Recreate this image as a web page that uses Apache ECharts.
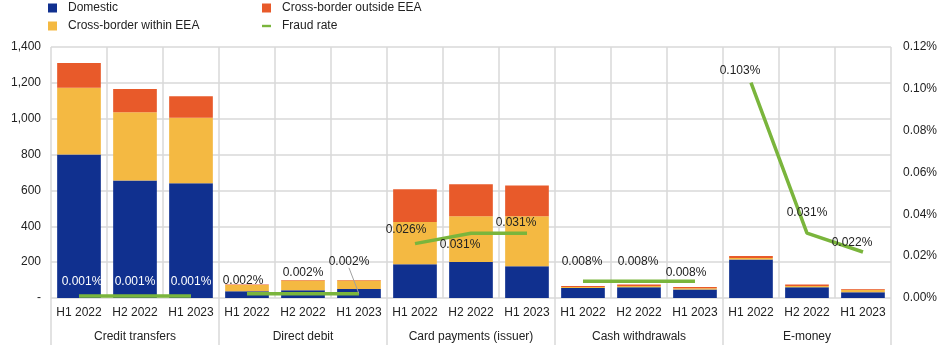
<!DOCTYPE html>
<html><head><meta charset="utf-8">
<script src="https://cdn.jsdelivr.net/npm/echarts@6/dist/echarts.min.js"></script>
<style>html,body{margin:0;padding:0;background:#fff}#c{width:940px;height:348px}</style>
</head><body><div id="c"></div>
<script>
var periods = ['H1 2022','H2 2022','H1 2023','H1 2022','H2 2022','H1 2023','H1 2022','H2 2022','H1 2023','H1 2022','H2 2022','H1 2023','H1 2022','H2 2022','H1 2023'];
var groups = ['Credit transfers','Direct debit','Card payments (issuer)','Cash withdrawals','E-money'];
var domestic = [801, 656, 640, 37, 43, 50, 188, 201, 177, 56, 60, 48, 215, 60, 32];
var withinEEA = [372, 380, 366, 35, 54, 47, 236, 255, 279, 5, 7, 6, 8, 7, 14];
var outsideEEA = [138, 130, 119, 3, 3, 3, 182, 178, 172, 6, 8, 7, 11, 8, 4];
var fraudRate = [0.001, 0.001, 0.001, 0.002, 0.002, 0.002, 0.026, 0.031, 0.031, 0.008, 0.008, 0.008, 0.103, 0.031, 0.022];
var leftTicks = [0, 200, 400, 600, 800, 1000, 1200, 1400];
var rightTicks = [0, 0.02, 0.04, 0.06, 0.08, 0.10, 0.12];
// label offsets [dx, dy] per point (styling only)
var labelOffsets = [[3,-14],[0,-14],[0,-14],[-4,-13],[0,-21],[-10,-32],[-9,-14],[-11,12],[-11,-10],[-1,-20],[-1,-20],[-9,-9],[-11,-12],[0,-20],[-11,-9]];
var leaderIndex = 5;

var C = echarts.init(document.getElementById('c'), null, {renderer:'canvas'});
var FONT = 'Liberation Sans, Arial, sans-serif';
var GRID = '#d9d9d9';

function fmtThousands(v){
  if (v === 0) return '-';
  return String(v).replace(/\B(?=(\d{3})+(?!\d))/g, ',');
}

var lineSeries = [];
for (var g = 0; g < groups.length; g++) {
  var d = [];
  for (var i = 0; i < fraudRate.length; i++) {
    if (Math.floor(i/3) === g) {
      var item = {value: fraudRate[i]};
      if (i === leaderIndex) item.labelLine = {show: true};
      d.push(item);
    } else d.push('-');
  }
  lineSeries.push({
    name: 'Fraud rate', type: 'line', yAxisIndex: 1, xAxisIndex: 0,
    data: d, symbol: 'circle', symbolSize: 1, showSymbol: true, z: 5,
    lineStyle: {color: '#7ab53c', width: 3.5},
    itemStyle: {color: 'rgba(0,0,0,0)'},
    label: {show: true, position: 'inside', distance: 0, fontFamily: FONT, fontSize: 12,
      color: g === 0 ? '#ffffff' : '#222',
      formatter: function(p){ return Number(p.value).toFixed(3) + '%'; }},
    labelLine: {show: false, lineStyle: {color: '#a0a0a0', width: 1}},
    labelLayout: function(params){
      var o = labelOffsets[params.dataIndex];
      return {dx: o[0], dy: o[1]};
    }
  });
}

var barCommon = {type: 'bar', stack: 'total', barWidth: '78%', xAxisIndex: 0, yAxisIndex: 0};
var option = {
  animation: false,
  textStyle: {fontFamily: FONT},
  legend: [
    {left: 43, top: -3, orient: 'vertical', itemGap: 6, itemWidth: 9, itemHeight: 9,
     textStyle: {fontFamily: FONT, fontSize: 12, color: '#222', padding: [0,0,0,6]},
     data: [{name:'Domestic', icon:'rect'}, {name:'Cross-border within EEA', icon:'rect'}]},
    {left: 257, top: -3, orient: 'vertical', itemGap: 6, itemWidth: 9, itemHeight: 9,
     textStyle: {fontFamily: FONT, fontSize: 12, color: '#222', padding: [0,0,0,6]},
     data: [{name:'Cross-border outside EEA', icon:'rect'},
            {name:'Fraud rate', icon:'path://M0,0 H30 V8 H0 Z', itemStyle: {color:'#7ab53c'}}]}
  ],
  grid: {left: 51, right: 47, top: 47, bottom: 50, containLabel: false},
  xAxis: [
    {type: 'category', data: periods, position: 'bottom',
     axisLine: {show: false}, axisTick: {show: false},
     axisLabel: {interval: 0, margin: 9, fontFamily: FONT, fontSize: 12, color: '#222'},
     splitLine: {show: true, interval: 0, lineStyle: {color: GRID, width: 1.5}}},
    {type: 'category', data: groups, position: 'bottom',
     axisLine: {show: false},
     axisTick: {show: true, length: 47, lineStyle: {color: GRID, width: 1.5}},
     axisLabel: {interval: 0, margin: 33, fontFamily: FONT, fontSize: 12, color: '#222'},
     splitLine: {show: false}}
  ],
  yAxis: [
    {type: 'value', min: leftTicks[0], max: leftTicks[leftTicks.length-1], interval: 200,
     axisLine: {show: false}, axisTick: {show: false},
     axisLabel: {margin: 10, fontFamily: FONT, fontSize: 12, color: '#222', formatter: fmtThousands},
     splitLine: {show: true, lineStyle: {color: GRID, width: 1.5}}},
    {type: 'value', min: rightTicks[0], max: rightTicks[rightTicks.length-1], interval: 0.02,
     position: 'right',
     axisLine: {show: false}, axisTick: {show: false},
     axisLabel: {margin: 12, fontFamily: FONT, fontSize: 12, color: '#222',
       formatter: function(v){ return v.toFixed(2) + '%'; }},
     splitLine: {show: false}}
  ],
  series: [
    Object.assign({name: 'Domestic', data: domestic, itemStyle: {color: '#10308f'}}, barCommon),
    Object.assign({name: 'Cross-border within EEA', data: withinEEA, itemStyle: {color: '#f4b942'}}, barCommon),
    Object.assign({name: 'Cross-border outside EEA', data: outsideEEA, itemStyle: {color: '#e85a2a'}}, barCommon)
  ].concat(lineSeries)
};
C.setOption(option);
</script>
</body></html>
